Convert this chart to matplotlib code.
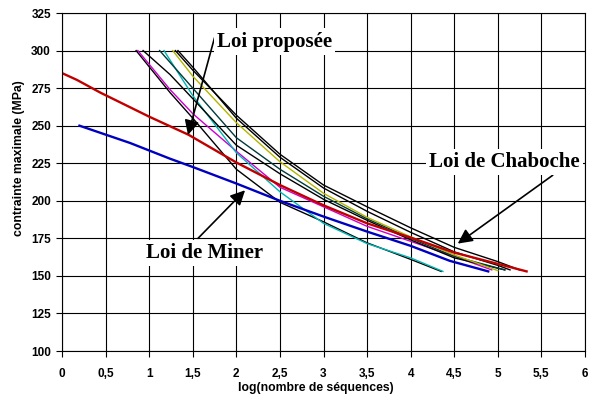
import matplotlib
matplotlib.use('Agg')
import matplotlib.pyplot as plt

# courbes : log(nombre de sequences) -> contrainte max (MPa)
miner_x = [0.2, 0.78, 1.24, 1.5, 2.0, 2.5, 3.0, 3.5, 4.0, 4.45, 4.89]
miner_y = [250, 238.5, 228, 222.5, 211.5, 200, 189.5, 179.5, 170, 160, 153]

chaboche_red_x = [0.0, 0.17, 0.44, 1.0, 1.45, 2.0, 2.5, 3.0, 3.5, 4.0, 4.5, 5.0, 5.33]
chaboche_red_y = [285, 280.5, 272, 256, 244, 225.5, 210.5, 197, 185, 175.5, 165.5, 158, 153]

black1_x = [1.30, 1.5, 2.0, 2.5, 3.0, 3.5, 4.0, 4.5, 5.0, 5.25]
black1_y = [300, 287, 257, 231, 210.5, 196, 182, 169, 159.5, 154]
black2_x = [1.33, 1.5, 2.0, 2.5, 3.0, 3.5, 4.0, 4.5, 5.0, 5.14]
black2_y = [300, 289, 255, 229, 208.5, 193, 179, 166, 157, 154]
yellow_x = [1.27, 1.5, 2.0, 2.5, 3.0, 3.5, 4.0, 4.5, 5.0]
yellow_y = [300, 283, 252, 226, 205, 189, 176, 164, 153.5]
teal_x = [1.12, 1.5, 2.0, 2.5, 3.0, 3.5, 4.0, 4.5, 5.08]
teal_y = [300, 275, 242, 221, 203, 188, 175, 163, 154]
black3_x = [0.93, 1.24, 1.5, 2.0, 2.5, 3.0, 3.5, 4.0, 4.5, 5.08]
black3_y = [300, 284, 268, 237, 218, 201, 187, 174, 162, 154]
cyan_x = [1.17, 1.5, 2.0, 2.5, 3.0, 3.5, 4.0, 4.37]
cyan_y = [300, 270, 232, 206, 185, 171.5, 162, 153]
magenta_x = [0.87, 1.24, 1.5, 2.0, 2.5, 3.0, 3.5, 4.0, 4.5, 4.93]
magenta_y = [300, 274, 258, 233, 209, 196, 183, 173, 163, 154]
black4_x = [0.85, 1.24, 1.5, 2.0, 2.5, 3.0, 3.5, 4.0, 4.35]
black4_y = [300, 272, 255, 221, 199, 186, 172, 161, 153]

x_ticks = [0, 0.5, 1, 1.5, 2, 2.5, 3, 3.5, 4, 4.5, 5, 5.5, 6]
x_ticklabels = ['0', '0,5', '1', '1,5', '2', '2,5', '3', '3,5', '4', '4,5', '5', '5,5', '6']
y_ticks = [100, 125, 150, 175, 200, 225, 250, 275, 300, 325]

fig = plt.figure(figsize=(5.89, 4.03), dpi=100)
ax = fig.add_axes([0.1053, 0.129, 0.8879, 0.8387])

ax.plot(black4_x, black4_y, color='black', lw=1.0)
ax.plot(magenta_x, magenta_y, color='#CC00CC', lw=1.0)
ax.plot(cyan_x, cyan_y, color='#00B4B4', lw=1.0)
ax.plot(black3_x, black3_y, color='black', lw=1.0)
ax.plot(teal_x, teal_y, color='#003A3A', lw=1.0)
ax.plot(yellow_x, yellow_y, color='#B4B400', lw=1.0)
ax.plot(black2_x, black2_y, color='black', lw=1.0)
ax.plot(black1_x, black1_y, color='black', lw=1.0)
ax.plot(chaboche_red_x, chaboche_red_y, color='#C00000', lw=1.7)
ax.plot(miner_x, miner_y, color='#0000C0', lw=1.7)

ax.set_xlim(0, 6)
ax.set_ylim(100, 325)
ax.set_xticks(x_ticks)
ax.set_xticklabels(x_ticklabels)
ax.set_yticks(y_ticks)
ax.grid(True, color='black', lw=0.8)
ax.set_axisbelow(True)
ax.tick_params(direction='out', length=4, width=0.8, labelsize=8.5)
ax.tick_params(axis='x', pad=8)
ax.tick_params(axis='y', pad=4)
for lab in ax.get_xticklabels() + ax.get_yticklabels():
    lab.set_fontweight('bold')
    lab.set_family('Liberation Sans')
for sp in ax.spines.values():
    sp.set_linewidth(0.8)

ax.set_xlabel('log(nombre de séquences)', fontsize=8.8, fontweight='bold',
              family='Liberation Sans')
ax.set_ylabel('contrainte maximale (MPa)', fontsize=8.8, fontweight='bold',
              family='Liberation Sans')
# placement comme dans l'original (un peu décalé)
ax.xaxis.set_label_coords(0.485, -0.092)
ax.yaxis.set_label_coords(-0.071, 0.571)

arrow = dict(arrowstyle='-|>', color='black', lw=1.2, mutation_scale=22,
             shrinkA=0, shrinkB=0)
box = dict(boxstyle='square,pad=0.15', facecolor='white', edgecolor='none')
txt = dict(fontsize=15, fontweight='bold', family='Liberation Serif', zorder=5)

ax.annotate('', xy=(1.445, 243.8), xytext=(1.75, 308.6), arrowprops=arrow)
ax.text(2.44, 306, 'Loi proposée', ha='center', va='center', bbox=box, **txt)

ax.annotate('', xy=(2.1, 207), xytext=(1.56, 175), arrowprops=arrow)
ax.text(1.64, 165, 'Loi de Miner', ha='center', va='center', bbox=box, **txt)

ax.annotate('', xy=(4.54, 171.5), xytext=(5.63, 217), arrowprops=arrow)
ax.text(5.08, 226, 'Loi de Chaboche', ha='center', va='center', bbox=box, **txt)

fig.savefig('out.png', dpi=100)
